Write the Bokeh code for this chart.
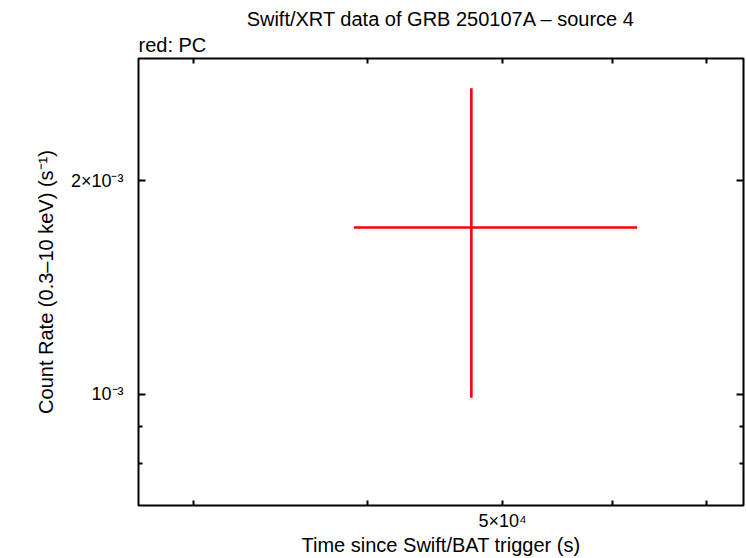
from bokeh.plotting import figure
from bokeh.models import (LogAxis, FixedTicker, CustomJSTickFormatter, Title,
                          Range1d, ColumnDataSource)
from bokeh.embed import file_html
from bokeh.resources import INLINE

# ---- data ----
time = [47480.0]
time_lo = [39100.0]
time_hi = [62450.0]
rate = [1.718e-3]
rate_lo = [9.89e-4]
rate_hi = [2.70e-3]

x_ticks = [30000.0, 40000.0, 50000.0, 60000.0, 70000.0]
x_tick_labels = ["", "", "5×10⁴", "", ""]
y_ticks = [1e-3, 2e-3]
y_tick_labels = ["10⁻³", "2×10⁻³"]
y_minor_ticks = [8e-4, 9e-4]

title_text = "Swift/XRT data of GRB 250107A – source 4"
subtitle_text = "red: PC"
x_label = "Time since Swift/BAT trigger (s)"
y_label = "Count Rate (0.3–10 keV) (s⁻¹)"

FONT = "Liberation Sans"

p = figure(width=746, height=558, x_axis_type="log", y_axis_type="log",
           x_range=Range1d(27380, 74470), y_range=Range1d(6.97e-4, 2.974e-3),
           output_backend="svg", toolbar_location=None, title=None,
           min_border_left=138, min_border_right=3,
           min_border_top=57, min_border_bottom=51)
p.background_fill_color = "white"
p.border_fill_color = "white"
p.outline_line_color = "black"
p.outline_line_width = 2
p.outline_line_alpha = 1.0
p.xgrid.visible = False
p.ygrid.visible = False

fmt_js = ("const i = tvals.findIndex(t => Math.abs(t - tick) / t < 1e-6);"
          "return i >= 0 ? tlabels[i] : '';")
xfmt = CustomJSTickFormatter(args=dict(tvals=x_ticks, tlabels=x_tick_labels), code=fmt_js)
yfmt = CustomJSTickFormatter(args=dict(tvals=y_ticks, tlabels=y_tick_labels), code=fmt_js)
blank = CustomJSTickFormatter(code="return '';")

xticker = FixedTicker(ticks=x_ticks)
yticker = FixedTicker(ticks=y_ticks, minor_ticks=y_minor_ticks)


def style(ax):
    ax.axis_line_color = None
    ax.major_tick_in = 7
    ax.major_tick_out = 0
    ax.minor_tick_in = 4
    ax.minor_tick_out = 0
    ax.major_tick_line_width = 2
    ax.minor_tick_line_width = 2
    ax.major_tick_line_color = "black"
    ax.minor_tick_line_color = "black"
    ax.major_label_text_font = FONT
    ax.major_label_text_font_size = "18px"
    ax.major_label_text_color = "black"
    ax.axis_label_text_font = FONT
    ax.axis_label_text_font_size = "20px"
    ax.axis_label_text_font_style = "normal"
    ax.axis_label_text_color = "black"


xa = p.xaxis[0]
style(xa)
xa.ticker = xticker
xa.formatter = xfmt
xa.major_tick_in = 5
xa.major_label_standoff = 5
xa.axis_label = x_label
xa.axis_label_standoff = 0

ya = p.yaxis[0]
style(ya)
ya.ticker = yticker
ya.formatter = yfmt
ya.major_label_standoff = 15
ya.axis_label = y_label
ya.axis_label_standoff = 11

top = LogAxis(ticker=xticker, formatter=blank)
style(top)
top.major_tick_in = 5
top.major_label_text_font_size = "1px"
top.major_label_standoff = 0
p.add_layout(top, "above")

right = LogAxis(ticker=yticker, formatter=blank)
style(right)
right.major_label_text_font_size = "1px"
right.major_label_standoff = 0
p.add_layout(right, "right")

sub = Title(text=subtitle_text, align="left", text_font=FONT, text_font_size="20px",
            text_font_style="normal", text_color="black", standoff=5)
p.add_layout(sub, "above")
main = Title(text=title_text, align="center", text_font=FONT, text_font_size="20px",
             text_font_style="normal", text_color="black", standoff=0,
             padding=dict(left=0, right=0, top=5, bottom=0))
p.add_layout(main, "above")

src = ColumnDataSource(dict(t=time, tlo=time_lo, thi=time_hi,
                            r=rate, rlo=rate_lo, rhi=rate_hi))
p.segment(x0="tlo", y0="r", x1="thi", y1="r", source=src,
          line_color="#ff0000", line_width=2.6)
p.segment(x0="t", y0="rlo", x1="t", y1="rhi", source=src,
          line_color="#ff0000", line_width=2.6)

open("out.html", "w").write(file_html(p, INLINE))
